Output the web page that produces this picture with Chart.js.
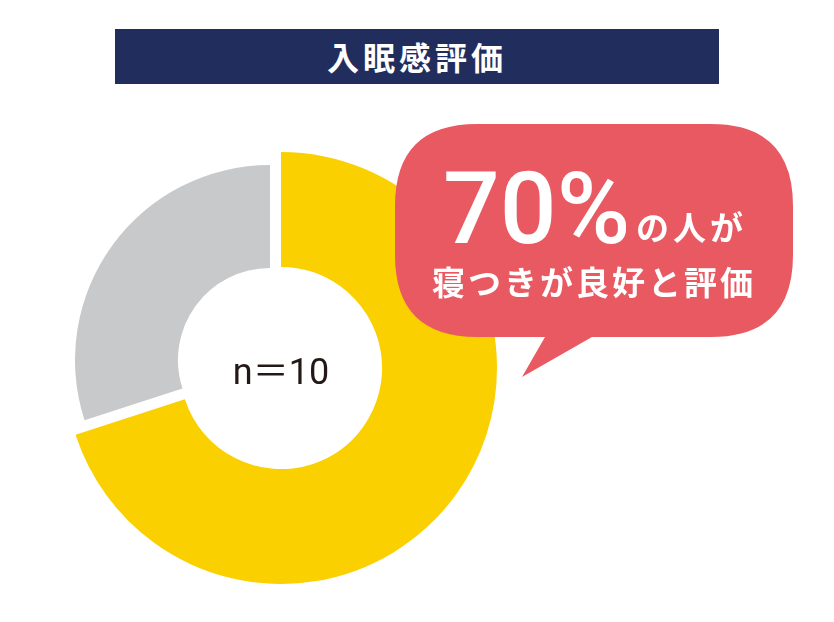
<!DOCTYPE html>
<html lang="ja">
<head>
<meta charset="utf-8">
<script src="https://cdn.jsdelivr.net/npm/chart.js@4.4.1/dist/chart.umd.min.js"></script>
<style>
  html, body { margin: 0; padding: 0; background: #fff; }
  body { width: 834px; height: 622px; position: relative; overflow: hidden;
         font-family: "Noto Sans CJK JP", "Noto Sans", sans-serif; }
  .title { position: absolute; left: 115px; top: 29px; width: 604px; height: 55px;
           background: #212d5d; color: #fff; font-weight: bold; font-size: 32px;
           line-height: 55px; text-align: center; letter-spacing: 4px; }
  .ring { position: absolute; }
  #ringMain { left: 65px; top: 152px; width: 432px; height: 432px; }
  #ringRest { left: 75px; top: 165px; width: 390px; height: 390px; }
  .center { position: absolute; left: 181px; top: 340px; width: 200px; text-align: center;
            font-size: 36px; line-height: 56px; color: #231815;
            font-family: Roboto, "Noto Sans CJK JP", sans-serif; font-weight: 400; }
  .bubble { position: absolute; left: 0; top: 0; }
  .big { position: absolute; left: 443px; top: 149px; color: #fff; font-weight: 500;
         font-size: 100px; line-height: 120px; font-family: Roboto, sans-serif; }
  .small1 { position: absolute; left: 636px; top: 204px; color: #fff; font-weight: bold;
            font-size: 33px; line-height: 44px; letter-spacing: 4px; }
  .small2 { position: absolute; left: 432px; top: 259px; color: #fff; font-weight: bold;
            font-size: 33px; line-height: 44px; letter-spacing: 3px; }
</style>
</head>
<body>
<div class="title">入眠感評価</div>

<div class="ring" id="ringRest"><canvas id="c2"></canvas></div>
<div class="ring" id="ringMain"><canvas id="c1"></canvas></div>
<div class="center">n<span style="font-family:'Noto Sans CJK JP'">＝</span>10</div>

<svg class="bubble" width="834" height="622">
  <path d="M477 124 H711 Q793 124 793 206 V255 Q793 337 711 337 H592 L522 377 L545 337 H477 Q395 337 395 255 V206 Q395 124 477 124 Z"
        fill="#e85961"/>
</svg>
<div class="big">70%</div>
<div class="small1">の人が</div>
<div class="small2">寝つきが良好と評価</div>

<script>
// rating split (percent of respondents)
const labels = ['良好', 'その他'];
const shares = [70, 30];
const colors = ['#fbd000', '#c8c9cb'];
const none = 'rgba(0,0,0,0)';

function ring(id, fill, radius, cutout) {
  return new Chart(document.getElementById(id), {
    type: 'doughnut',
    data: {
      labels: labels,
      datasets: [{
        data: shares,
        backgroundColor: fill,
        borderWidth: 0,
        hoverOffset: 0,
        offset: 0,
        radius: radius,
        cutout: cutout
      }]
    },
    options: {
      responsive: true,
      maintainAspectRatio: false,
      animation: false,
      events: [],
      layout: { padding: 0 },
      plugins: { legend: { display: false }, tooltip: { enabled: false } }
    }
  });
}

// main slice drawn full size, the remainder slightly smaller and shifted
ring('c1', [colors[0], none], 216, '46.8%');
ring('c2', [none, colors[1]], 195, '47.2%');
</script>
</body>
</html>
